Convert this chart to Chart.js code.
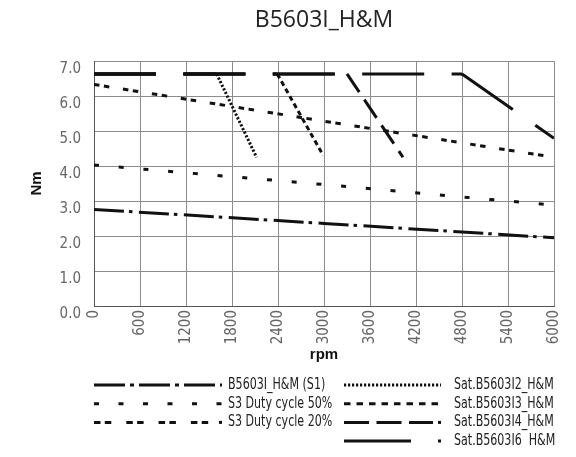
<!DOCTYPE html>
<html>
<head>
<meta charset="utf-8">
<script src="https://cdn.jsdelivr.net/npm/chart.js@4"></script>
<style>
  html, body { margin: 0; padding: 0; background: #fff; }
</style>
</head>
<body>
<canvas id="myChart" width="576" height="457"></canvas>
<script>
// data (rpm / Nm)
const seriesNames = [
  "B5603I_H&M (S1)",
  "S3 Duty cycle 50%",
  "S3 Duty cycle 20%",
  "Sat.B5603I2_H&M",
  "Sat.B5603I3_H&M",
  "Sat.B5603I4_H&M",
  "Sat.B5603I6  H&M",
];
const s1Rpm = [0, 3000, 6000];
const s1Nm = [2.76, 2.36, 1.95];
const s3_50Rpm = [0, 3000, 6000];
const s3_50Nm = [4.03, 3.47, 2.88];
const s3_20Rpm = [0, 3000, 6000];
const s3_20Nm = [6.33, 5.28, 4.25];
const satI2Rpm = [0, 1600, 2120];
const satI2Nm = [6.63, 6.63, 4.25];
const satI3Rpm = [0, 2390, 2990];
const satI3Nm = [6.63, 6.63, 4.3];
const satI4Rpm = [0, 3300, 4030];
const satI4Nm = [6.63, 6.63, 4.25];
const satI6Rpm = [0, 4800, 6000];
const satI6Nm = [6.63, 6.63, 4.79];
const xTicks = [0, 600, 1200, 1800, 2400, 3000, 3600, 4200, 4800, 5400, 6000];
const yTicks = [0, 1, 2, 3, 4, 5, 6, 7];

const narrow = "'Liberation Sans Narrow', 'DejaVu Sans Condensed', sans-serif";
const ink = "#111";

function pts(xs, ys) {
  return xs.map((x, i) => ({ x: x, y: ys[i] }));
}

// the flat part of every saturation curve shares one long-dash pattern
const flatDash = [62, 27.4];
function satSegment(dropDash) {
  return {
    borderDash: (c) => (c.p0.parsed.y === c.p1.parsed.y ? flatDash : dropDash),
  };
}

function line(i, data, dash, legendDash, extra) {
  return Object.assign({
    label: seriesNames[i],
    data: data,
    borderColor: ink,
    borderWidth: 3,
    borderDash: dash,
    legendDash: legendDash,
    legendDot: false,
    pointRadius: 0,
    fill: false,
    tension: 0,
  }, extra || {});
}

const datasets = [
  line(0, pts(s1Rpm, s1Nm), [30, 5, 3.5, 6.5], [31, 5, 4, 5]),
  line(1, pts(s3_50Rpm, s3_50Nm), [5, 19.8], [5, 19.5]),
  line(2, pts(s3_20Rpm, s3_20Nm), [5.5, 4.5, 5.5, 13.8], [6.5, 4.3, 6.5, 15], { legendDot: true }),
  line(3, pts(satI2Rpm, satI2Nm), flatDash, [2.2, 1.8], { segment: satSegment([2.2, 1.8]) }),
  line(4, pts(satI3Rpm, satI3Nm), flatDash, [6.5, 6], { segment: satSegment([5, 3.5]) }),
  line(5, pts(satI4Rpm, satI4Nm), flatDash, [25, 7.5], { segment: satSegment([22, 9]), legendDot: true }),
  line(6, pts(satI6Rpm, satI6Nm), flatDash, [67, 27], { segment: satSegment([62, 27.5]) }),
];

// two-column legend under the x axis
const columnLegend = {
  id: "columnLegend",
  afterDraw(chart) {
    const c = chart.ctx;
    chart.data.datasets.forEach((ds, i) => {
      const right = i >= 3;
      const row = right ? i - 3 : i;
      const x0 = right ? 344 : 94;
      const x1 = right ? 441 : 222;
      const y = 385 + row * 18.7;
      c.save();
      c.strokeStyle = ink;
      c.lineWidth = 3;
      c.setLineDash(ds.legendDash);
      c.beginPath();
      c.moveTo(x0, y);
      c.lineTo(ds.legendDot ? x1 - 8 : x1, y);
      c.stroke();
      c.setLineDash([]);
      c.fillStyle = ink;
      if (ds.legendDot) c.fillRect(x1 - 3, y - 1.5, 3, 3);
      c.fillStyle = "#222";
      c.font = "15px " + narrow;
      c.textAlign = "left";
      c.textBaseline = "middle";
      c.translate(right ? 454 : 228, y);
      c.scale(0.82, 1);
      c.fillText(ds.label, 0, 0);
      c.restore();
    });
  },
};

const ctx = document.getElementById("myChart");
const myChart = new Chart(ctx, {
  type: "line",
  data: { datasets: datasets },
  plugins: [columnLegend],
  options: {
    responsive: false,
    animation: false,
    events: [],
    layout: { padding: { left: 0, right: 22, top: 0, bottom: 89 } },
    plugins: {
      legend: { display: false },
      tooltip: { enabled: false },
      title: {
        display: true,
        text: "B5603I_H&M",
        fullSize: false,
        color: "#222",
        font: { family: "'Open Sans', sans-serif", size: 23, weight: "normal" },
        padding: { top: 7, bottom: 26.4 },
      },
    },
    scales: {
      x: {
        type: "linear",
        min: 0,
        max: 6000,
        afterBuildTicks: (s) => { s.ticks = xTicks.map((v) => ({ value: v })); },
        afterFit: (s) => { s.height = 62; },
        ticks: {
          minRotation: 90,
          maxRotation: 90,
          padding: 4,
          color: "#666",
          font: { family: narrow, size: 15 },
          callback: (v) => String(v),
        },
        grid: { color: "#8c8c8c", lineWidth: 1, drawTicks: false },
        border: { color: "#555", width: 1 },
        title: {
          display: true,
          text: "rpm",
          color: "#111",
          font: { family: "'Liberation Sans', Arial, sans-serif", size: 15, weight: "bold" },
          padding: { top: 0, bottom: 4 },
        },
      },
      y: {
        min: 0,
        max: 7,
        afterBuildTicks: (s) => { s.ticks = yTicks.map((v) => ({ value: v })); },
        afterFit: (s) => { s.width = 94; },
        ticks: {
          padding: 13,
          labelOffset: 8,
          color: "#666",
          font: { family: narrow, size: 15 },
          callback: (v) => v.toFixed(1),
        },
        grid: { color: "#8c8c8c", lineWidth: 1, drawTicks: false },
        border: { color: "#555", width: 1 },
        title: {
          display: true,
          text: "Nm",
          color: "#111",
          font: { family: "'Liberation Sans', Arial, sans-serif", size: 15, weight: "bold" },
          padding: { top: 28, bottom: 0 },
        },
      },
    },
  },
});
</script>
</body>
</html>
